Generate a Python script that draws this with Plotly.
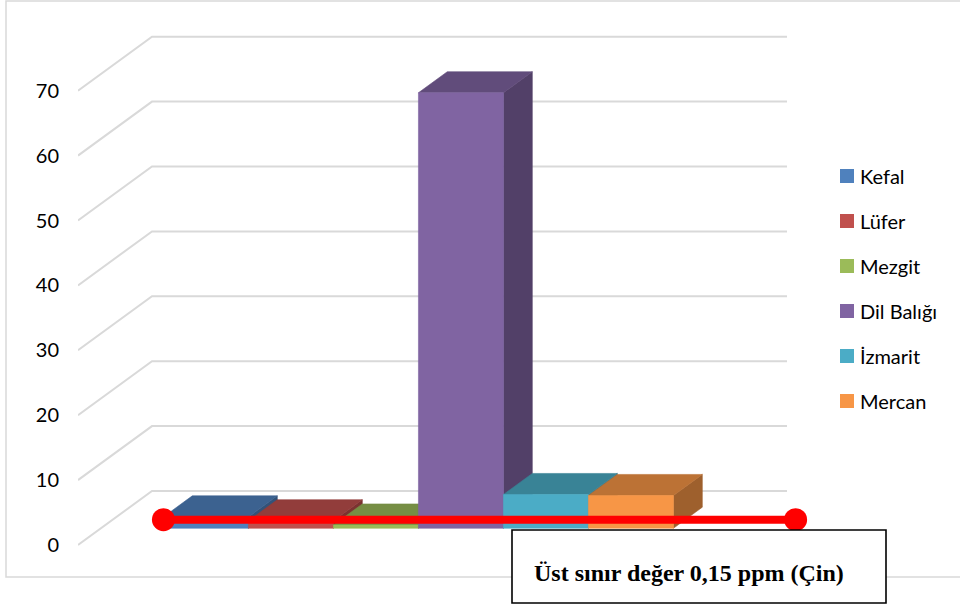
import plotly.graph_objects as go

# ---- data -------------------------------------------------------------
species = ["Kefal", "Lüfer", "Mezgit", "Dil Balığı", "İzmarit", "Mercan"]
values = [1.75, 1.15, 0.5, 67.1, 5.2, 5.05]
front_colors = ["#4F81BD", "#C0504D", "#9BBB59", "#8064A2", "#4BACC6", "#F79646"]
tick_values = [0, 10, 20, 30, 40, 50, 60, 70]
limit_value = 0.15
limit_label = "Üst sınır değer 0,15 ppm (Çin)"

# ---- page / plot-area geometry (pixels) -------------------------------
W, H = 960, 608
PLOT_L, PLOT_R, PLOT_T, PLOT_B = 78, 960, 0, 608
PX_PER_SLOT = 85.0          # one column width in pixels
PX_PER_UNIT = 6.49          # vertical pixels per value unit
FLOOR_FRONT_PX = 545        # pixel row of value 0 on the front edge

# oblique depth of the box, in axis units
DEPTH_DX = 74 / PX_PER_SLOT
DEPTH_DY = 54 / PX_PER_UNIT
FLOOR_W = 635 / PX_PER_SLOT
BAR_D0, BAR_D1 = 0.31, 0.70          # columns sit in the middle of the depth
SIDE_GAP = (FLOOR_W - len(values)) / 2

x_range = [0, (PLOT_R - PLOT_L) / PX_PER_SLOT]
y_range = [(FLOOR_FRONT_PX - PLOT_B) / PX_PER_UNIT, (FLOOR_FRONT_PX - PLOT_T) / PX_PER_UNIT]


def proj(x, h, d):
    """Oblique projection of (x, height, depth fraction) into axis units."""
    return x + d * DEPTH_DX, h + d * DEPTH_DY


def shade(hex_color, k):
    r, g, b = (int(hex_color[i:i + 2], 16) for i in (1, 3, 5))
    return "#%02X%02X%02X" % (round(r * k), round(g * k), round(b * k))


def px_x(p):
    return (p - PLOT_L) / (PLOT_R - PLOT_L)


def px_y(p):
    return 1 - (p - PLOT_T) / (PLOT_B - PLOT_T)


fig = go.Figure()

# ---- walls: gridlines on the back wall and the left side wall ----------
gx, gy = [], []
for v in tick_values:
    for (x, d) in [(0, 0), (0, 1), (FLOOR_W, 1)]:
        px, py = proj(x, v, d)
        gx.append(px)
        gy.append(py)
    gx.append(None)
    gy.append(None)
fig.add_trace(go.Scatter(x=gx, y=gy, mode="lines",
                         line=dict(color="#D9D9D9", width=2),
                         hoverinfo="skip", showlegend=False))

# ---- 3-D columns: side, top and front faces ---------------------------
def poly(points, color, name):
    xs, ys = zip(*[proj(*p) for p in points])
    fig.add_trace(go.Scatter(x=list(xs) + [xs[0]], y=list(ys) + [ys[0]],
                             mode="lines", fill="toself", fillcolor=color,
                             line=dict(color=color, width=0.6),
                             name=name, hoverinfo="skip", showlegend=False))


for i, (name, v, c) in enumerate(zip(species, values, front_colors)):
    x0 = SIDE_GAP + i
    x1 = x0 + 1
    poly([(x1, 0, BAR_D0), (x1, 0, BAR_D1), (x1, v, BAR_D1), (x1, v, BAR_D0)],
         shade(c, 0.64), name)
    poly([(x0, v, BAR_D0), (x1, v, BAR_D0), (x1, v, BAR_D1), (x0, v, BAR_D1)],
         shade(c, 0.76), name)
    poly([(x0, 0, BAR_D0), (x1, 0, BAR_D0), (x1, v, BAR_D0), (x0, v, BAR_D0)],
         c, name)

# ---- upper-limit line -------------------------------------------------
LIMIT_D = 0.45
lx0, ly = proj(SIDE_GAP + BAR_D0 * DEPTH_DX - LIMIT_D * DEPTH_DX, limit_value, LIMIT_D)
lx1, _ = proj(FLOOR_W + 0.58, limit_value, LIMIT_D)
fig.add_trace(go.Scatter(x=[lx0, lx1], y=[ly, ly], mode="lines+markers",
                         line=dict(color="#FF0000", width=8),
                         marker=dict(color="#FF0000", size=23),
                         hoverinfo="skip", showlegend=False))

# ---- outer frame, label box and legend --------------------------------
shapes = [
    dict(type="rect", xref="paper", yref="paper",
         x0=px_x(6), x1=px_x(962), y0=px_y(577), y1=px_y(1),
         line=dict(color="#D9D9D9", width=1.5), fillcolor="rgba(0,0,0,0)",
         layer="below"),
    dict(type="rect", xref="paper", yref="paper",
         x0=px_x(512), x1=px_x(886), y0=px_y(603), y1=px_y(530),
         line=dict(color="#000000", width=1.6), fillcolor="#FFFFFF",
         layer="above"),
]
annotations = [
    dict(text="<b>%s</b>" % limit_label, xref="paper", yref="paper",
         x=px_x(532), y=px_y(573), xanchor="left", yanchor="middle",
         showarrow=False,
         font=dict(family="Liberation Serif, Times New Roman, serif",
                   size=24, color="#000000")),
]

LEG_X, LEG_Y0, LEG_STEP, SQ = 840, 176, 45, 14
for i, (name, c) in enumerate(zip(species, front_colors)):
    cy = LEG_Y0 + i * LEG_STEP
    shapes.append(dict(type="rect", xref="paper", yref="paper",
                       x0=px_x(LEG_X), x1=px_x(LEG_X + SQ),
                       y0=px_y(cy + SQ / 2), y1=px_y(cy - SQ / 2),
                       line=dict(width=0), fillcolor=c, layer="above"))
    annotations.append(dict(text=name, xref="paper", yref="paper",
                            x=px_x(LEG_X + SQ + 4), y=px_y(cy),
                            xanchor="left", yanchor="middle", showarrow=False,
                            font=dict(family="Lato, sans-serif", size=20,
                                      color="#000000")))

fig.update_layout(
    width=W, height=H,
    margin=dict(l=PLOT_L, r=W - PLOT_R, t=PLOT_T, b=H - PLOT_B),
    paper_bgcolor="#FFFFFF", plot_bgcolor="rgba(0,0,0,0)",
    showlegend=False, hovermode=False,
    shapes=shapes, annotations=annotations,
    xaxis=dict(range=x_range, visible=False, fixedrange=True),
    yaxis=dict(range=y_range, tickvals=tick_values, ticks="",
               showgrid=False, zeroline=False, showline=False,
               ticklabelstandoff=18, automargin=False, fixedrange=True,
               tickfont=dict(family="Lato, sans-serif", size=20, color="#000000")),
)

fig.write_html("out.html", config={"displayModeBar": False})
